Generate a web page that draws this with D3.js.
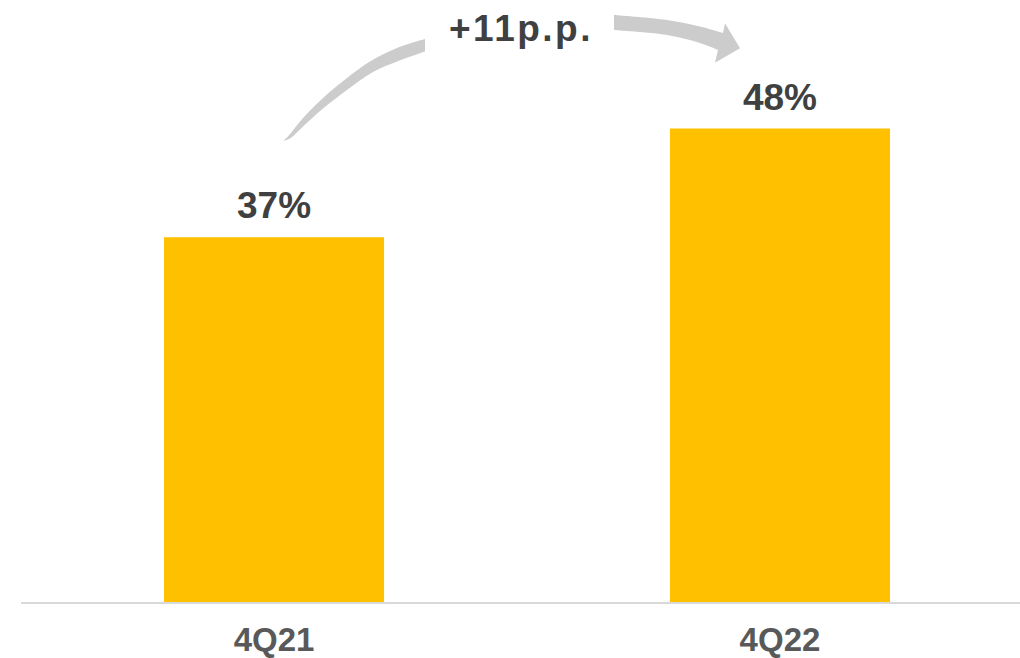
<!DOCTYPE html>
<html>
<head>
<meta charset="utf-8">
<script src="https://cdn.jsdelivr.net/npm/d3@7"></script>
<style>
  html, body { margin: 0; padding: 0; background: #ffffff; }
  svg { display: block; }
  text { font-family: Arial, "Liberation Sans", sans-serif; font-weight: bold; }
</style>
</head>
<body>
<svg id="chart" width="1020" height="658"></svg>
<script>
// Quarterly share values (%)
const categories = ["4Q21", "4Q22"];
const values = [37, 48];
const valueLabels = ["37%", "48%"];
const changeLabel = "+11p.p.";

const W = 1020, H = 658;
const baseY = 603;

const svg = d3.select("#chart");

const x = d3.scaleBand()
  .domain(categories)
  .range([21, 1033])
  .paddingInner(0.565)
  .paddingOuter(0.2826);

const y = d3.scaleLinear()
  .domain([0, 61])
  .range([baseY, 0]);

// baseline axis
svg.append("line")
  .attr("x1", 21).attr("x2", W)
  .attr("y1", baseY).attr("y2", baseY)
  .attr("stroke", "#d9d9d9")
  .attr("stroke-width", 2);

// bars
svg.selectAll("rect.bar")
  .data(values)
  .join("rect")
  .attr("class", "bar")
  .attr("x", (d, i) => x(categories[i]))
  .attr("width", x.bandwidth())
  .attr("y", d => y(d))
  .attr("height", d => y(0) - y(d) - 1)
  .attr("fill", "#FFC000");

// value labels
svg.selectAll("text.val")
  .data(values)
  .join("text")
  .attr("class", "val")
  .attr("x", (d, i) => x(categories[i]) + x.bandwidth() / 2)
  .attr("y", d => y(d) - 19)
  .attr("text-anchor", "middle")
  .attr("font-size", 37)
  .attr("fill", "#404040")
  .text((d, i) => valueLabels[i]);

// category axis labels
const xAxis = d3.axisBottom(x).tickSize(0).tickPadding(0);
const gx = svg.append("g")
  .attr("transform", `translate(0,${baseY})`)
  .call(xAxis);
gx.select(".domain").remove();
gx.selectAll("text")
  .attr("y", 48)
  .attr("dy", null)
  .attr("font-size", 33)
  .attr("font-family", "Arial, 'Liberation Sans', sans-serif")
  .attr("font-weight", "bold")
  .attr("fill", "#595959");

// curved change arrow, split around its label
const smooth = d3.line().curve(d3.curveCatmullRom.alpha(0.5));
function band(top, bottom) {
  return smooth(top) + smooth(bottom).replace(/^M/, "L") + "Z";
}

const tailTop = [[283, 141], [288, 136.5], [303, 118], [323, 98], [347, 78], [370, 61.5], [397, 48], [425, 39]];
const tailBottom = [[425, 51.5], [397, 61.5], [373, 72], [347, 90], [323, 108.5], [303, 126.5], [290, 138.5], [283, 141]];

const shaftTop = [[614, 15], [667, 20], [700, 26.5], [723, 33]];
const shaftBottom = [[718, 50], [700, 43], [667, 35], [614, 30]];

const arrow = svg.append("g").attr("fill", "#cccccc");
arrow.append("path").attr("d", band(tailTop, tailBottom));
arrow.append("path").attr("d",
  smooth(shaftTop) +
  "L725,23.3L740,48.3L715,62.7" +
  smooth(shaftBottom).replace(/^M/, "L") + "Z");

svg.append("text")
  .attr("x", 521)
  .attr("y", 41)
  .attr("text-anchor", "middle")
  .attr("font-size", 37)
  .attr("letter-spacing", "2.5px")
  .attr("fill", "#404040")
  .text(changeLabel);
</script>
</body>
</html>
